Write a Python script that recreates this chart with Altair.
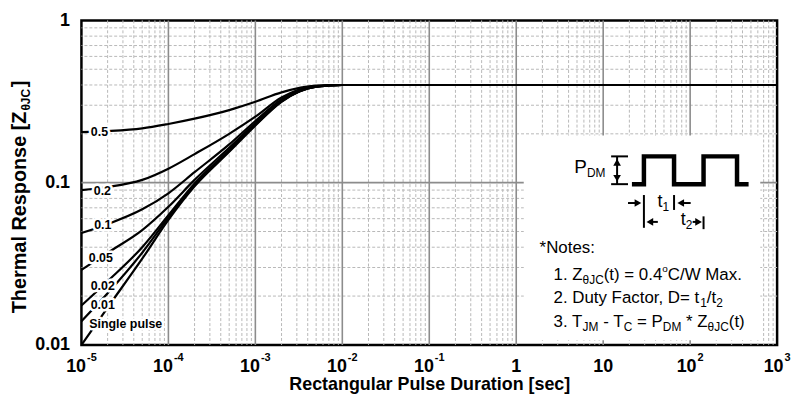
import altair as alt
import pandas as pd

# ---------------- data ----------------
pulse_x = [1e-5, 2e-5, 5e-5, 1e-4, 2e-4, 5e-4, 1e-3, 2e-3, 5e-3, 1e-2, 1e3]
z_d05 = [0.205, 0.208, 0.216, 0.230, 0.248, 0.280, 0.315, 0.360, 0.396, 0.400, 0.400]
z_d02 = [0.090, 0.094, 0.104, 0.122, 0.150, 0.200, 0.255, 0.335, 0.394, 0.400, 0.400]
z_d01 = [0.049, 0.0555, 0.0685, 0.086, 0.116, 0.172, 0.240, 0.326, 0.393, 0.400, 0.400]
z_d005 = [0.029, 0.037, 0.051, 0.071, 0.104, 0.164, 0.233, 0.322, 0.392, 0.400, 0.400]
z_d002 = [0.0175, 0.0247, 0.040, 0.063, 0.099, 0.159, 0.229, 0.319, 0.391, 0.400, 0.400]
z_d001 = [0.0140, 0.0208, 0.037, 0.061, 0.097, 0.157, 0.227, 0.317, 0.391, 0.400, 0.400]
z_single = [0.0100, 0.0170, 0.034, 0.059, 0.095, 0.155, 0.225, 0.315, 0.390, 0.400, 0.400]
curve_names = ["0.5", "0.2", "0.1", "0.05", "0.02", "0.01", "Single pulse"]
curve_values = [z_d05, z_d02, z_d01, z_d005, z_d002, z_d001, z_single]

label_text = ["0.5", "0.2", "0.1", "0.05", "0.02", "0.01", "Single pulse"]
label_x = [1.61e-5, 1.74e-5, 1.76e-5, 1.67e-5, 1.76e-5, 1.76e-5, 3.23e-5]
label_y = [0.2037, 0.0887, 0.0550, 0.0345, 0.0230, 0.0176, 0.0134]

x_ticks_neg = [1e-5, 1e-4, 1e-3, 1e-2, 1e-1]
x_exp_neg = ["-5", "-4", "-3", "-2", "-1"]
x_ticks_pos = [1e2, 1e3]
x_exp_pos = ["2", "3"]
x_ticks_plain = [1, 10]
x_text_plain = ["1", "10"]
y_ticks = [0.01, 0.1, 1]

x_major = [1e-4, 1e-3, 1e-2, 1e-1, 1, 10, 100]
x_minor = [m * 10.0 ** e for e in range(-5, 3) for m in range(2, 10)]
y_major = [0.1]
y_minor = [m * 10.0 ** e for e in (-2, -1) for m in range(2, 10)]

# inset (notes / pulse sketch) in data units
box_x = [1.22]
box_x2 = [640]
box_y = [0.0107]
box_y2 = [0.195]

wave_x = [21.4, 29.4, 29.4, 65.3, 65.3, 142.6, 142.6, 346, 346, 470]
wave_y = [0.0979, 0.0979, 0.1452, 0.1452, 0.0979, 0.0979, 0.1452, 0.1452, 0.0979, 0.0979]

hseg_x1 = [12.34, 12.34, 19.3, 77.9, 34.4, 106.9]
hseg_x2 = [19.3, 19.3, 25.1, 101.4, 42.5, 125.0]
hseg_y = [0.1452, 0.0979, 0.0749, 0.0749, 0.0573, 0.0573]

vseg_x = [14.45, 29.4, 65.3, 142.6]
vseg_y1 = [0.0979, 0.0527, 0.0679, 0.0517]
vseg_y2 = [0.1452, 0.0839, 0.0839, 0.0620]

head_x = [14.45, 14.45, 25.1, 125.0, 77.9, 34.4]
head_y = [0.1334, 0.1065, 0.0749, 0.0573, 0.0749, 0.0573]
head_shape = ["triangle-up", "triangle-down", "triangle-right", "triangle-right",
              "triangle-left", "triangle-left"]

# ---------------- styling helpers ----------------
FONT = "Liberation Sans"

W_REG = {' ': 278, '*': 389, '(': 333, ')': 333, ',': 278, '-': 333, '.': 278, '/': 278,
         ':': 278, '=': 584, '°': 400, 'C': 722, 'D': 722, 'F': 611, 'J': 500, 'M': 833,
         'N': 722, 'P': 667, 'T': 611, 'W': 944, 'Z': 611, 'a': 556, 'c': 500, 'e': 556,
         'o': 556, 's': 500, 't': 278, 'u': 556, 'x': 500, 'y': 500, 'r': 333, 'θ': 556}
W_BOLD = {' ': 278, '-': 333, 'θ': 611, 'J': 556, 'C': 722, ']': 333, '[': 333}


def text_w(s, size, bold=False):
    t = W_BOLD if bold else W_REG
    return sum(t.get(c, 556) for c in s) * size / 1000.0


XS = alt.Scale(type="log", domain=[1e-5, 1e3], nice=False)
YS = alt.Scale(type="log", domain=[0.01, 1], nice=False)
XAX = alt.Axis(labels=False, ticks=False, tickSize=0, grid=False, domain=False,
               title="Rectangular Pulse Duration [sec]", titleFont=FONT, titleFontSize=18,
               titleFontWeight="bold", titleColor="black", titlePadding=31)
YAX = alt.Axis(values=y_ticks, format="~g", ticks=False, tickSize=0, grid=False, domain=False,
               title="", labelFont=FONT, labelFontSize=18, labelFontWeight="bold",
               labelColor="black", labelPadding=12)


def X(f):
    return alt.X(f, type="quantitative", scale=XS, axis=XAX)


def Y(f):
    return alt.Y(f, type="quantitative", scale=YS, axis=YAX)


layers = []

# grid
layers.append(alt.Chart(pd.DataFrame({"gx": x_minor})).mark_rule(
    color="#b8b8b8", strokeWidth=1, strokeDash=[3, 2]).encode(x=X("gx")))
layers.append(alt.Chart(pd.DataFrame({"gy": y_minor})).mark_rule(
    color="#b8b8b8", strokeWidth=1, strokeDash=[3, 2]).encode(y=Y("gy")))
layers.append(alt.Chart(pd.DataFrame({"gx": x_major})).mark_rule(
    color="#8c8c8c", strokeWidth=1.6).encode(x=X("gx")))
layers.append(alt.Chart(pd.DataFrame({"gy": y_major})).mark_rule(
    color="#8c8c8c", strokeWidth=1.6).encode(y=Y("gy")))

# white panel behind notes
layers.append(alt.Chart(pd.DataFrame({"bx": box_x, "bx2": box_x2, "by": box_y, "by2": box_y2}))
              .mark_rect(fill="white").encode(x=X("bx"), x2=alt.X2("bx2"), y=Y("by"), y2=alt.Y2("by2")))

# curves
rows = []
for name, vals in zip(curve_names, curve_values):
    for xv, yv in zip(pulse_x, vals):
        rows.append({"t": xv, "z": yv, "D": name})
curve_df = pd.DataFrame(rows)
layers.append(alt.Chart(curve_df).mark_line(color="black", strokeWidth=2.2, interpolate="monotone")
              .encode(x=X("t"), y=Y("z"), detail="D:N"))

# curve labels with halo
ldf = pd.DataFrame({"lx": label_x, "ly": label_y, "lt": label_text})
layers.append(alt.Chart(ldf).mark_text(font=FONT, fontSize=12.5, fontWeight="bold", fill="white",
                                       stroke="white", strokeWidth=5, strokeJoin="round")
              .encode(x=X("lx"), y=Y("ly"), text="lt:N"))
layers.append(alt.Chart(ldf).mark_text(font=FONT, fontSize=12.5, fontWeight="bold", color="black")
              .encode(x=X("lx"), y=Y("ly"), text="lt:N"))

# pulse sketch
wdf = pd.DataFrame({"wx": wave_x, "wy": wave_y, "i": list(range(len(wave_x)))})
layers.append(alt.Chart(wdf).mark_line(color="black", strokeWidth=4.5, strokeJoin="miter",
                                       strokeCap="butt")
              .encode(x=X("wx"), y=Y("wy"), order="i:Q"))
layers.append(alt.Chart(pd.DataFrame({"hx1": hseg_x1, "hx2": hseg_x2, "hy": hseg_y}))
              .mark_rule(color="black", strokeWidth=2)
              .encode(x=X("hx1"), x2=alt.X2("hx2"), y=Y("hy")))
layers.append(alt.Chart(pd.DataFrame({"vx": vseg_x, "vy1": vseg_y1, "vy2": vseg_y2}))
              .mark_rule(color="black", strokeWidth=2)
              .encode(x=X("vx"), y=Y("vy1"), y2=alt.Y2("vy2")))
layers.append(alt.Chart(pd.DataFrame({"ax": head_x, "ay": head_y, "sh": head_shape}))
              .mark_point(filled=True, color="black", opacity=1, size=60)
              .encode(x=X("ax"), y=Y("ay"), shape=alt.Shape("sh:N", scale=None)))


def seg_layers(x, y, segs, base=17, sub=12, sup=10, bold=False, sub_dy=4):
    out = []
    cur = 0.0
    for s, kind in segs:
        size = base if kind == "n" else (sub if kind == "sub" else sup)
        dy = 0 if kind == "n" else (sub_dy if kind == "sub" else -8)
        lead = len(s) - len(s.lstrip(" "))
        shown = s.strip()
        props = dict(align="left", baseline="alphabetic", font=FONT, fontSize=size,
                     color="black", dx=cur + text_w(" " * lead, size, bold), dy=dy)
        if bold:
            props["fontWeight"] = "bold"
        out.append(alt.Chart(pd.DataFrame({"tx": [x], "ty": [y], "s": [shown]}))
                   .mark_text(**props).encode(x=X("tx"), y=Y("ty"), text="s:N"))
        cur += text_w(s, size, bold)
    return out


layers += seg_layers(4.66, 0.1143, [("P", "n"), ("DM", "sub")], base=19, sub=12)
layers += seg_layers(42.2, 0.0711, [("t", "n"), ("1", "sub")], base=18, sub=12)
layers += seg_layers(77.9, 0.0550, [("t", "n"), ("2", "sub")], base=18, sub=12)

# notes
layers += seg_layers(1.856, 0.03705, [("*Notes:", "n")])
layers += seg_layers(2.683, 0.02497, [("1. Z", "n"), ("θJC", "sub"), ("(t) = 0.4", "n"),
                                      ("o", "sup"), ("C/W Max.", "n")])
layers += seg_layers(2.683, 0.01806, [("2. Duty Factor, D= t", "n"), ("1", "sub"), ("/t", "n"),
                                      ("2", "sub")])
layers += seg_layers(2.683, 0.01289, [("3. T", "n"), ("JM", "sub"), (" - T", "n"), ("C", "sub"),
                                      (" = P", "n"), ("DM", "sub"), (" * Z", "n"), ("θJC", "sub"),
                                      ("(t)", "n")])

# x tick labels (10 with superscript exponent)
ymin = y_ticks[0]
for ticks, exps, base_dx, exp_dx in ((x_ticks_neg, x_exp_neg, 4.6, 5.6),
                                     (x_ticks_pos, x_exp_pos, 6.45, 7.45)):
    d = pd.DataFrame({"tx": ticks, "ty": [ymin] * len(ticks), "b": ["10"] * len(ticks), "e": exps})
    layers.append(alt.Chart(d).mark_text(align="right", baseline="alphabetic", font=FONT,
                                         fontSize=18, fontWeight="bold", color="black",
                                         dx=base_dx, dy=27)
                  .encode(x=X("tx"), y=Y("ty"), text="b:N"))
    layers.append(alt.Chart(d).mark_text(align="left", baseline="alphabetic", font=FONT,
                                         fontSize=11, fontWeight="bold", color="black",
                                         dx=exp_dx, dy=16)
                  .encode(x=X("tx"), y=Y("ty"), text="e:N"))
dp = pd.DataFrame({"tx": x_ticks_plain, "ty": [ymin] * len(x_ticks_plain), "b": x_text_plain})
layers.append(alt.Chart(dp).mark_text(align="center", baseline="alphabetic", font=FONT,
                                      fontSize=18, fontWeight="bold", color="black", dy=27)
              .encode(x=X("tx"), y=Y("ty"), text="b:N"))

# y title (rotated, with subscript)
ty_anchor = 0.278
sub_w = text_w("θJC", 12, True)
layers.append(alt.Chart(pd.DataFrame({"tx": [1e-5], "ty": [ty_anchor], "s": ["Thermal Response [Z"]}))
              .mark_text(align="right", baseline="alphabetic", font=FONT, fontSize=20,
                         fontWeight="bold", color="black", angle=270, dx=-1, dy=-55.5)
              .encode(x=X("tx"), y=Y("ty"), text="s:N"))
layers.append(alt.Chart(pd.DataFrame({"tx": [1e-5], "ty": [ty_anchor], "s": ["θJC"]}))
              .mark_text(align="left", baseline="alphabetic", font=FONT, fontSize=12,
                         fontWeight="bold", color="black", angle=270, dx=0, dy=-52)
              .encode(x=X("tx"), y=Y("ty"), text="s:N"))
layers.append(alt.Chart(pd.DataFrame({"tx": [1e-5], "ty": [ty_anchor], "s": ["]"]}))
              .mark_text(align="left", baseline="alphabetic", font=FONT, fontSize=20,
                         fontWeight="bold", color="black", angle=270, dx=sub_w + 1, dy=-55.5)
              .encode(x=X("tx"), y=Y("ty"), text="s:N"))

chart = alt.layer(*layers).properties(
    width=701, height=327,
    autosize=alt.AutoSizeParams(type="none"),
    padding={"left": 74, "top": 11, "right": 14, "bottom": 54},
).configure_view(stroke="black", strokeWidth=2.5).configure_axis(labelFont=FONT, titleFont=FONT)

chart.save("out.html", embed_options={"renderer": "svg", "actions": False})
